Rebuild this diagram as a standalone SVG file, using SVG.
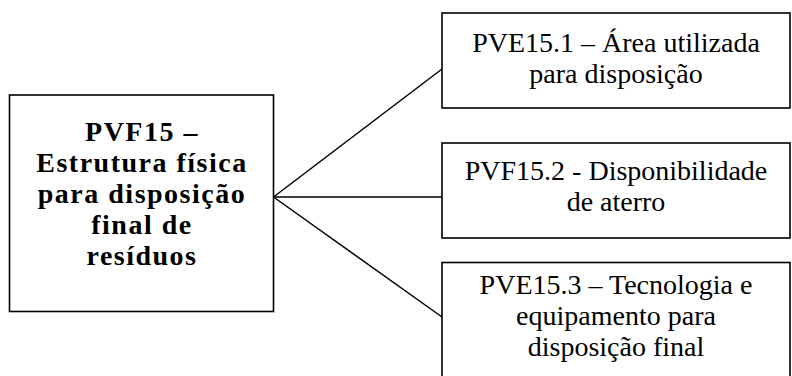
<svg xmlns="http://www.w3.org/2000/svg" width="792" height="376" viewBox="0 0 792 376">
<style>
.box{fill:#fff;stroke:#000;stroke-width:1.6}
.t{font-family:"Liberation Serif","Times New Roman",serif;font-size:28px;fill:#000;text-anchor:middle}
.b{font-weight:bold;font-size:28px;letter-spacing:1.5px}
.c{stroke:#000;stroke-width:1.5;fill:none}
</style>
<rect width="792" height="376" fill="#fff"/>
<g id="connectors">
<line class="c" x1="273.5" y1="197" x2="442" y2="69"/>
<line class="c" x1="273.5" y1="197" x2="442" y2="197"/>
<line class="c" x1="273.5" y1="197" x2="442" y2="317"/>
</g>
<g id="root">
<rect class="box" x="9.5" y="95" width="264" height="216.5"/>
<text class="t b" x="142" y="140.5">PVF15 –</text>
<text class="t b" x="142" y="171.5">Estrutura física</text>
<text class="t b" x="142" y="202.5">para disposição</text>
<text class="t b" x="142" y="233.5">final de</text>
<text class="t b" x="142" y="264.5">resíduos</text>
</g>
<g id="n1">
<rect class="box" x="442" y="13" width="348" height="95"/>
<text class="t" x="616" y="52">PVE15.1 – Área utilizada</text>
<text class="t" x="616" y="83">para disposição</text>
</g>
<g id="n2">
<rect class="box" x="442" y="143" width="348" height="95"/>
<text class="t" x="616" y="180">PVF15.2 - Disponibilidade</text>
<text class="t" x="616" y="211">de aterro</text>
</g>
<g id="n3">
<rect class="box" x="442" y="262.5" width="348" height="130"/>
<text class="t" x="616" y="294">PVE15.3 – Tecnologia e</text>
<text class="t" x="616" y="325">equipamento para</text>
<text class="t" x="616" y="356">disposição final</text>
</g>
</svg>
